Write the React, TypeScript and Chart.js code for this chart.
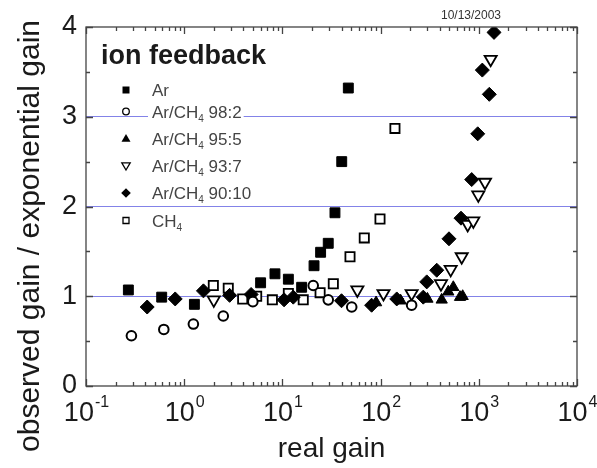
import React, { useEffect, useRef } from 'react';
import { Chart, registerables } from 'chart.js';

Chart.register(...registerables);

// ---- data ----
const xDecadeExponents = [-1, 0, 1, 2, 3, 4];
const yTickValues = [0, 1, 2, 3, 4];
const guideLineValues = [1, 2, 3];
const seriesLabels = ['Ar', 'Ar/CH4 98:2', 'Ar/CH4 95:5', 'Ar/CH4 93:7', 'Ar/CH4 90:10', 'CH4'];

const arX = [0.27, 0.59, 1.27, 6.0, 8.4, 11.5, 15.7, 21, 24.5, 29.3, 34.3, 40.2, 46.9];
const arY = [1.07, 0.99, 0.91, 1.15, 1.25, 1.19, 1.1, 1.34, 1.49, 1.59, 1.93, 2.5, 3.32];

const m98X = [0.29, 0.62, 1.24, 2.5, 5.0, 20.6, 29.3, 50.8, 207];
const m98Y = [0.56, 0.63, 0.69, 0.78, 0.94, 1.12, 0.96, 0.88, 0.9];

const m95X = [90, 160, 300, 419, 489, 550, 644, 685];
const m95Y = [0.93, 0.95, 0.97, 0.96, 1.05, 1.1, 0.99, 1.0];

const m93X = [2.0, 58, 107, 207, 412, 517, 670, 771, 879, 988, 1157, 1321];
const m93Y = [0.96, 1.07, 1.03, 1.03, 1.14, 1.3, 1.44, 1.8, 1.84, 2.13, 2.27, 3.64];

const m90X = [0.42, 0.81, 1.57, 2.9, 4.8, 10.4, 12.9, 40, 81, 146, 272, 295, 373, 497, 659, 847, 975, 1086, 1279, 1429];
const m90Y = [0.88, 0.97, 1.06, 1.01, 1.02, 0.96, 0.99, 0.95, 0.9, 0.97, 0.99, 1.16, 1.29, 1.64, 1.87, 2.3, 2.81, 3.52, 3.25, 3.94];

const ch4X = [1.98, 2.81, 3.94, 5.47, 7.9, 11.5, 16.3, 24.2, 33, 48.8, 68.2, 98.6, 140];
const ch4Y = [1.12, 1.09, 0.97, 1.0, 0.96, 1.03, 0.96, 1.04, 1.14, 1.44, 1.65, 1.86, 2.87];

const dateLabel = '10/13/2003';
const titleText = 'ion feedback';
const xAxisTitle = 'real gain';
const yAxisTitle = 'observed gain / exponential gain';

const zip = (xs: number[], ys: number[]) => xs.map((x, i) => ({ x, y: ys[i] }));

const FONT = '"Liberation Sans", Arial, sans-serif';

function drawMarker(ctx: CanvasRenderingContext2D, kind: number, x: number, y: number) {
  ctx.save();
  ctx.fillStyle = '#000';
  ctx.strokeStyle = '#000';
  ctx.lineWidth = 1.3;
  ctx.beginPath();
  if (kind === 0) {
    ctx.rect(x - 3.5, y - 3.5, 7, 7);
    ctx.fill();
  } else if (kind === 1) {
    ctx.arc(x, y, 3.3, 0, Math.PI * 2);
    ctx.stroke();
  } else if (kind === 2) {
    ctx.moveTo(x, y - 4.5);
    ctx.lineTo(x + 4.5, y + 3.2);
    ctx.lineTo(x - 4.5, y + 3.2);
    ctx.closePath();
    ctx.fill();
  } else if (kind === 3) {
    ctx.moveTo(x, y + 4);
    ctx.lineTo(x + 4.2, y - 3.2);
    ctx.lineTo(x - 4.2, y - 3.2);
    ctx.closePath();
    ctx.stroke();
  } else if (kind === 4) {
    ctx.moveTo(x, y - 4.8);
    ctx.lineTo(x + 4.8, y);
    ctx.lineTo(x, y + 4.8);
    ctx.lineTo(x - 4.8, y);
    ctx.closePath();
    ctx.fill();
  } else {
    ctx.rect(x - 3, y - 3, 6, 6);
    ctx.stroke();
  }
  ctx.restore();
}

const decorPlugin = {
  id: 'decor',
  afterDatasetsDraw(chart: any) {
    const ctx: CanvasRenderingContext2D = chart.ctx;
    const { left, right, top, bottom } = chart.chartArea;
    const xs = chart.scales.x;
    const ys = chart.scales.y;
    ctx.save();

    // frame
    ctx.strokeStyle = '#444';
    ctx.lineWidth = 1.3;
    ctx.strokeRect(left, top, right - left, bottom - top);

    // y ticks (inward, both sides)
    ctx.beginPath();
    for (let v = 0; v <= 4.001; v += 0.5) {
      const py = Math.round(ys.getPixelForValue(v)) + 0.5;
      const len = Math.abs(v - Math.round(v)) < 1e-6 ? 7 : 4;
      ctx.moveTo(left, py);
      ctx.lineTo(left + len, py);
      ctx.moveTo(right, py);
      ctx.lineTo(right - len, py);
    }
    // x ticks (inward, bottom and top)
    for (const e of xDecadeExponents) {
      for (let m = 1; m <= 9; m++) {
        const val = m * Math.pow(10, e);
        if (val > 10000.0001) continue;
        const px = Math.round(xs.getPixelForValue(val)) + 0.5;
        const len = m === 1 ? 7 : 4;
        ctx.moveTo(px, bottom);
        ctx.lineTo(px, bottom - len);
        ctx.moveTo(px, top);
        ctx.lineTo(px, top + len);
      }
    }
    ctx.stroke();

    // x tick labels with superscripts
    ctx.fillStyle = '#1a1a1a';
    ctx.textBaseline = 'alphabetic';
    ctx.textAlign = 'left';
    for (const e of xDecadeExponents) {
      const px = xs.getPixelForValue(Math.pow(10, e));
      ctx.font = `27px ${FONT}`;
      const wBase = ctx.measureText('10').width;
      ctx.font = `16px ${FONT}`;
      const sup = String(e);
      const wSup = ctx.measureText(sup).width;
      const start = px - (wBase + wSup) / 2;
      ctx.font = `27px ${FONT}`;
      ctx.fillText('10', start, 421);
      ctx.font = `16px ${FONT}`;
      ctx.fillText(sup, start + wBase + 1, 407);
    }

    // axis titles
    ctx.font = `28px ${FONT}`;
    ctx.textAlign = 'center';
    ctx.fillText(xAxisTitle, (left + right) / 2, 457);
    ctx.save();
    ctx.font = `30px ${FONT}`;
    ctx.translate(39, 236);
    ctx.rotate(-Math.PI / 2);
    ctx.fillText(yAxisTitle, 0, 0);
    ctx.restore();

    // date
    ctx.font = `12px ${FONT}`;
    ctx.fillStyle = '#333';
    ctx.fillText(dateLabel, 471, 19);

    // title
    ctx.textAlign = 'left';
    ctx.fillStyle = '#1a1a1a';
    ctx.font = `bold 27px ${FONT}`;
    ctx.fillText(titleText, 101, 64);

    // legend
    const rowCenters = [90, 111.5, 138.5, 166, 193, 220.5];
    seriesLabels.forEach((label, i) => {
      const cy = rowCenters[i];
      const base = cy + 6;
      const idx = label.indexOf('CH4');
      const pre = idx >= 0 ? label.slice(0, idx + 2) : label;
      const post = idx >= 0 ? label.slice(idx + 3) : '';
      ctx.font = `17px ${FONT}`;
      const wPre = ctx.measureText(pre).width;
      const wPost = ctx.measureText(post).width;
      ctx.font = `10px ${FONT}`;
      const wSub = idx >= 0 ? ctx.measureText('4').width : 0;
      const tx = 152;
      ctx.fillStyle = '#fff';
      ctx.fillRect(tx - 4, cy - 9, wPre + wSub + wPost + 6, 17);
      ctx.fillStyle = '#444';
      ctx.font = `17px ${FONT}`;
      ctx.fillText(pre, tx, base);
      if (idx >= 0) {
        ctx.font = `10px ${FONT}`;
        ctx.fillText('4', tx + wPre, base + 4);
        ctx.font = `17px ${FONT}`;
        ctx.fillText(post, tx + wPre + wSub, base);
      }
      drawMarker(ctx, i, 126, cy);
    });

    ctx.restore();
  },
};

export default function App() {
  const canvasRef = useRef<HTMLCanvasElement | null>(null);

  useEffect(() => {
    const canvas = canvasRef.current;
    if (!canvas) return;
    const black = '#000';
    const white = '#fff';
    const chart = new Chart(canvas, {
      type: 'scatter',
      data: {
        datasets: [
          {
            label: seriesLabels[0],
            data: zip(arX, arY),
            pointStyle: 'rect',
            pointRadius: 7,
            backgroundColor: black,
            borderColor: black,
            borderWidth: 1,
          },
          {
            label: seriesLabels[1],
            data: zip(m98X, m98Y),
            pointStyle: 'circle',
            pointRadius: 4.8,
            backgroundColor: white,
            borderColor: black,
            borderWidth: 2,
          },
          {
            label: seriesLabels[2],
            data: zip(m95X, m95Y),
            pointStyle: 'triangle',
            pointRadius: 6.5,
            backgroundColor: black,
            borderColor: black,
            borderWidth: 1,
          },
          {
            label: seriesLabels[3],
            data: zip(m93X, m93Y),
            pointStyle: 'triangle',
            rotation: 180,
            pointRadius: 7,
            backgroundColor: white,
            borderColor: black,
            borderWidth: 1.8,
          },
          {
            label: seriesLabels[4],
            data: zip(m90X, m90Y),
            pointStyle: 'rectRot',
            pointRadius: 7,
            backgroundColor: black,
            borderColor: black,
            borderWidth: 1,
          },
          {
            label: seriesLabels[5],
            data: zip(ch4X, ch4Y),
            pointStyle: 'rect',
            pointRadius: 6.5,
            backgroundColor: white,
            borderColor: black,
            borderWidth: 1.8,
          },
        ],
      },
      options: {
        animation: false,
        responsive: false,
        maintainAspectRatio: false,
        events: [],
        layout: { padding: { left: 0, right: 20, top: 27, bottom: 0 } },
        plugins: {
          legend: { display: false },
          tooltip: { enabled: false },
          title: { display: false },
        },
        scales: {
          x: {
            type: 'logarithmic',
            min: Math.pow(10, xDecadeExponents[0]),
            max: Math.pow(10, xDecadeExponents[xDecadeExponents.length - 1]),
            grid: { display: false },
            border: { display: false },
            ticks: { display: false },
            afterFit: (s: any) => {
              s.height = 82;
            },
          },
          y: {
            min: yTickValues[0],
            max: yTickValues[yTickValues.length - 1],
            border: { display: false },
            ticks: {
              stepSize: 1,
              padding: 9,
              color: '#1a1a1a',
              font: { family: FONT, size: 27 },
            },
            grid: {
              drawTicks: false,
              lineWidth: 1,
              color: (c: any) =>
                guideLineValues.includes(c.tick && c.tick.value) ? '#8383e8' : 'rgba(0,0,0,0)',
            },
            afterFit: (s: any) => {
              s.width = 86;
            },
          },
        },
      },
      plugins: [decorPlugin],
    });
    return () => chart.destroy();
  }, []);

  return (
    <div style={{ position: 'absolute', left: 0, top: 0, width: 597, height: 468, background: '#fff' }}>
      <canvas ref={canvasRef} width={597} height={468} style={{ width: 597, height: 468, display: 'block' }} />
    </div>
  );
}
